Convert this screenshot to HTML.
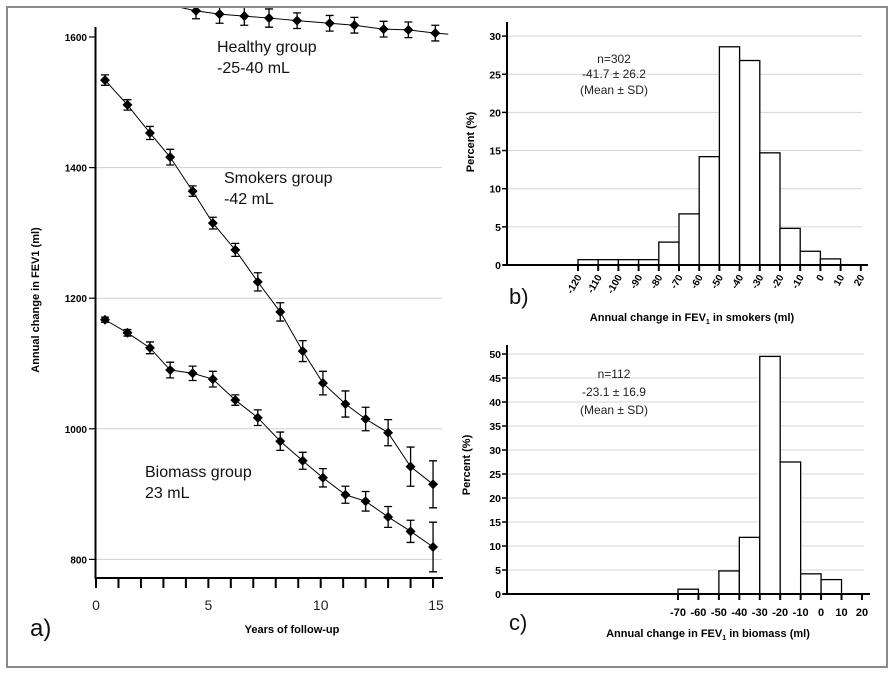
<!DOCTYPE html>
<html><head><meta charset="utf-8"><style>
html,body{margin:0;padding:0;background:#fff;}
svg{display:block;font-family:"Liberation Sans",Arial,sans-serif;}
</style></head><body>
<svg id="fig" width="895" height="674" viewBox="0 0 895 674" xmlns="http://www.w3.org/2000/svg">
<rect x="7" y="7" width="880" height="660" fill="none" stroke="#8a8a8a" stroke-width="2"/>
<g id="pa"></g>
<g id="pb"></g>
<g id="pc"></g>
</svg>
<script>
// Panel a data
const years = [0.4,1.4,2.4,3.3,4.3,5.2,6.2,7.2,8.2,9.2,10.1,11.1,12.0,13.0,14.0,15.0];
const smokers = [1534,1496,1453,1416,1364,1315,1274,1225,1179,1119,1070,1038,1015,994,942,915];
const smokersErr = [8,8,10,12,8,9,10,14,14,16,18,20,18,20,30,36];
const biomass = [1167,1147,1124,1090,1085,1076,1044,1017,981,951,925,899,889,865,843,819];
const biomassErr = [4,5,9,12,11,12,8,12,14,13,14,13,15,16,17,38];
const healthyYears = [4.45,5.5,6.6,7.7,8.95,10.4,11.5,12.8,13.9,15.1];
const healthy = [1640,1635,1632,1629,1625,1621,1618,1612,1611,1606];
const healthyErr = [12,14,14,14,12,12,12,12,12,12];
const aYTicks = [800,1000,1200,1400,1600];
const aXTicks = [0,5,10,15];
// Panel b data
const bBins = [-120,-110,-100,-90,-80,-70,-60,-50,-40,-30,-20,-10,0];
const bPct = [0.7,0.7,0.7,0.7,3.0,6.7,14.2,28.6,26.8,14.7,4.8,1.8,0.8];
const bXTicks = [-120,-110,-100,-90,-80,-70,-60,-50,-40,-30,-20,-10,0,10,20];
const bYTicks = [0,5,10,15,20,25,30];
// Panel c data
const cBins = [-70,-50,-40,-30,-20,-10,0];
const cPct = [1.0,4.8,11.8,49.5,27.5,4.2,3.0];
const cXTicks = [-70,-60,-50,-40,-30,-20,-10,0,10,20];
const cYTicks = [0,5,10,15,20,25,30,35,40,45,50];

const NS="http://www.w3.org/2000/svg";
function mk(parent,tag,attrs,text){const e=document.createElementNS(NS,tag);for(const k in attrs)e.setAttribute(k,attrs[k]);if(text!==undefined)e.textContent=text;parent.appendChild(e);return e;}

// ---------- Panel a ----------
const pa=document.getElementById('pa');
const ax=t=>96+t*22.47;
const ay=v=>37+(1600-v)*0.653;
aYTicks.forEach(v=>{
  if(v!==1600){const g=mk(pa,'line',{x1:96,x2:442,y1:ay(v),y2:ay(v),stroke:'#cfcfcf','stroke-width':1});
  
  }
  const t=mk(pa,'line',{x1:89,x2:95,y1:ay(v),y2:ay(v),stroke:'#000','stroke-width':1.2});
  
  
  const l=mk(pa,'text',{x:87,y:ay(v)+4,'text-anchor':'end','font-size':10,'font-weight':'bold'},v);
  
  
});
const yaxA=mk(pa,'line',{x1:95.5,x2:95.5,y1:27,y2:579,stroke:'#000','stroke-width':2});


const xaxA=mk(pa,'line',{x1:95,x2:443,y1:578,y2:578,stroke:'#000','stroke-width':2});


for(let i=0;i<=15;i++){
  const t=mk(pa,'line',{x1:ax(i),x2:ax(i),y1:578,y2:588,stroke:'#000','stroke-width':2});
  
  
}
aXTicks.forEach(v=>{
  const l=mk(pa,'text',{x:ax(v)+(v===15?3:0),y:610,'text-anchor':'middle','font-size':14,fill:'#222'},v);
  
  
});
mk(pa,'clipPath',{id:'clipA'});
mk(document.getElementById('clipA'),'rect',{x:8,y:8,width:445,height:580});
function series(xs,ys,es,name){
  const g=mk(pa,'g',{'clip-path':'url(#clipA)'});
  
  
  let pts=xs.map((t,i)=>ax(t)+','+ay(ys[i])).join(' ');
  if(name==='healthy-series'){
    const x0=ax(xs[0]),y0=ay(ys[0]),x1=ax(xs[1]),y1=ay(ys[1]);
    const s=(y1-y0)/(x1-x0);
    const xl=ax(xs[xs.length-1]),yl=ay(ys[ys.length-1]);
    pts=(x0-22)+','+(y0-22*s*1.6)+' '+pts+' '+(xl+13)+','+(yl+1);
  }
  mk(g,'polyline',{points:pts,fill:'none',stroke:'#000','stroke-width':1});
  xs.forEach((t,i)=>{
    const x=ax(t),y=ay(ys[i]),e=es[i]*0.653;
    const eb=mk(g,'path',{d:`M${x},${y-e}V${y+e}M${x-4},${y-e}H${x+4}M${x-4},${y+e}H${x+4}`,stroke:'#000','stroke-width':1.3,fill:'none'});
    
    
    const m=mk(g,'path',{d:`M${x},${y-5}L${x+5},${y}L${x},${y+5}L${x-5},${y}Z`,fill:'#000'});
    
    
  });
}
series(healthyYears,healthy,healthyErr,'healthy-series');
series(years,smokers,smokersErr,'smokers-series');
series(years,biomass,biomassErr,'biomass-series');
[['Healthy group',217,52,'healthy-label'],['-25-40 mL',217,73,'healthy-value'],['Smokers group',224,183,'smokers-label'],['-42 mL',224,204,'smokers-value'],['Biomass group',145,477,'biomass-label'],['23 mL',145,498,'biomass-value']].forEach(a=>{
  const l=mk(pa,'text',{x:a[1],y:a[2],'font-size':16,fill:'#111'},a[0]);
  
  
});
const ta=mk(pa,'text',{x:292,y:633,'text-anchor':'middle','font-size':11,'font-weight':'bold'},'Years of follow-up');


const tya=mk(pa,'text',{x:0,y:0,'text-anchor':'middle','font-size':11,'font-weight':'bold',transform:'translate(39,300) rotate(-90)'},'Annual change in FEV1 (ml)');


const la=mk(pa,'text',{x:30,y:636,'font-size':24,fill:'#111'},'a)');



// ---------- Histogram helper ----------
function hist(g,prefix,o){
  const X=v=>o.x0+(v-o.xmin)*o.kx;
  const Y=p=>o.y0-p*o.ky;
  o.yTicks.forEach(v=>{
    if(v>0){const gl=mk(g,'line',{x1:o.ax0,x2:o.gx1,y1:Y(v),y2:Y(v),stroke:'#d4d4d4','stroke-width':1});
    
    }
    const t=mk(g,'line',{x1:o.ax0-5,x2:o.ax0,y1:Y(v),y2:Y(v),stroke:'#000','stroke-width':1.5});
    
    
    const l=mk(g,'text',{x:o.ax0-6,y:Y(v)+4,'text-anchor':'end','font-size':10.5,'font-weight':'bold'},v);
    
    
  });
  o.bins.forEach((b,i)=>{
    const r=mk(g,'rect',{x:X(b),y:Y(o.pct[i]),width:10*o.kx,height:o.pct[i]*o.ky,fill:'#fff',stroke:'#000','stroke-width':1.3});
    
    
  });
  const ya=mk(g,'line',{x1:o.ax0,x2:o.ax0,y1:o.ytop,y2:o.y0+1,stroke:'#000','stroke-width':2});
  
  
  const xa=mk(g,'line',{x1:o.ax0-4,x2:o.axEnd,y1:o.y0,y2:o.y0,stroke:'#000','stroke-width':2});
  
  
  o.xTicks.forEach(v=>{
    const t=mk(g,'line',{x1:X(v),x2:X(v),y1:o.y0,y2:o.y0+6,stroke:'#000','stroke-width':2});
    
    
    let l;
    if(o.rot){l=mk(g,'text',{x:0,y:0,'text-anchor':'end','font-size':10,'font-weight':'bold',transform:`translate(${X(v)+4},${o.y0+12}) rotate(-60)`},v);}
    else{l=mk(g,'text',{x:X(v),y:o.y0+22,'text-anchor':'middle','font-size':11,'font-weight':'bold'},v);}
    
    
  });
}
const pb=document.getElementById('pb');
hist(pb,'b',{x0:578,xmin:-120,kx:2.02,y0:265,ky:7.63,ax0:507,gx1:862,ytop:22,axEnd:868,bins:bBins,pct:bPct,xTicks:bXTicks,yTicks:bYTicks,rot:true});
[['n=302',63],['-41.7 ± 26.2',78],['(Mean ± SD)',94]].forEach(a=>{
  const l=mk(pb,'text',{x:614,y:a[1],'text-anchor':'middle','font-size':12,fill:'#222'},a[0]);
  
  
});
const tb=mk(pb,'text',{x:692,y:321,'text-anchor':'middle','font-size':11,'font-weight':'bold'});
tb.innerHTML='Annual change in FEV<tspan font-size="7" dy="3">1</tspan><tspan dy="-3"> in smokers (ml)</tspan>';


const tyb=mk(pb,'text',{x:0,y:0,'text-anchor':'middle','font-size':11,'font-weight':'bold',transform:'translate(474,142) rotate(-90)'},'Percent (%)');


const lb=mk(pb,'text',{x:509,y:304,'font-size':22,fill:'#111'},'b)');



const pc=document.getElementById('pc');
hist(pc,'c',{x0:678,xmin:-70,kx:2.044,y0:594,ky:4.8,ax0:507,gx1:864,ytop:345,axEnd:870,bins:cBins,pct:cPct,xTicks:cXTicks,yTicks:cYTicks,rot:false});
[['n=112',378],['-23.1 ± 16.9',396],['(Mean ± SD)',414]].forEach(a=>{
  const l=mk(pc,'text',{x:614,y:a[1],'text-anchor':'middle','font-size':12,fill:'#222'},a[0]);
  
  
});
const tc=mk(pc,'text',{x:708,y:637,'text-anchor':'middle','font-size':11,'font-weight':'bold'});
tc.innerHTML='Annual change in FEV<tspan font-size="7" dy="3">1</tspan><tspan dy="-3"> in biomass (ml)</tspan>';


const tyc=mk(pc,'text',{x:0,y:0,'text-anchor':'middle','font-size':11,'font-weight':'bold',transform:'translate(470,465) rotate(-90)'},'Percent (%)');


const lc=mk(pc,'text',{x:509,y:630,'font-size':22,fill:'#111'},'c)');


</script>
</body></html>
